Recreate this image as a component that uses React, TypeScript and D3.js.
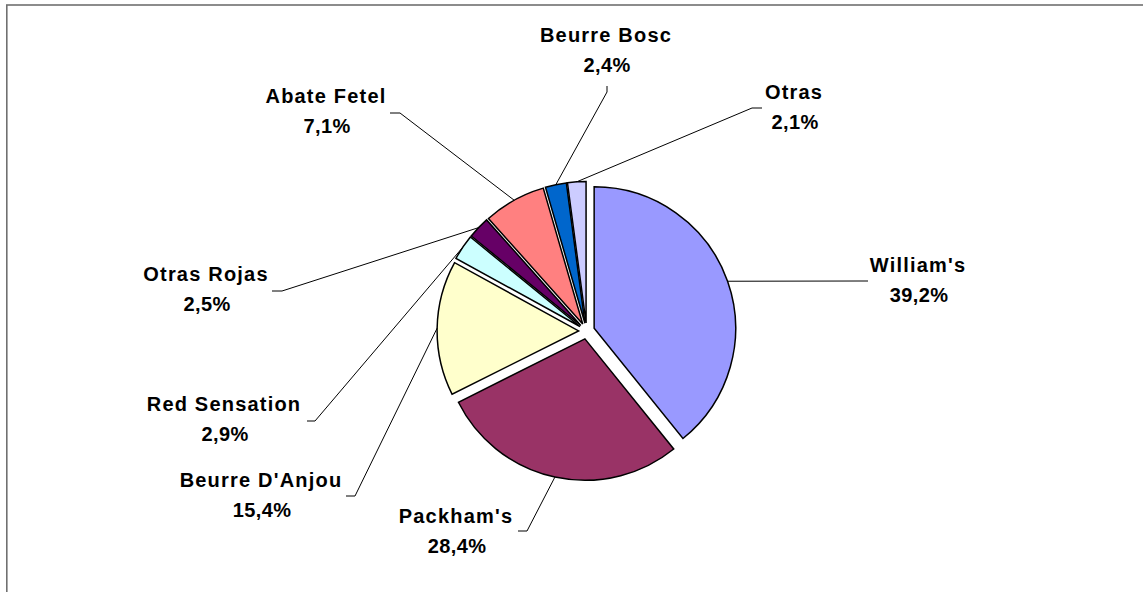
import * as d3 from 'd3';
import { type FC, useEffect, useRef } from 'react';

// Variedades de pera, % del total
const varieties = [
  "William's",
  "Packham's",
  "Beurre D'Anjou",
  'Red Sensation',
  'Otras Rojas',
  'Abate Fetel',
  'Beurre Bosc',
  'Otras',
];
const shares = [39.2, 28.4, 15.4, 2.9, 2.5, 7.1, 2.4, 2.1];

const sliceColors = [
  '#9999FF',
  '#993366',
  '#FFFFCC',
  '#CCFFFF',
  '#660066',
  '#FF8080',
  '#0066CC',
  '#CCCCFF',
];

// label layout: text centre x, first baseline y, leader elbow and end
const labelLayout = [
  { x: 918, y: 272, elbow: [860, 281], end: [868, 281] },
  { x: 456, y: 523, elbow: [527, 531], end: [518, 531] },
  { x: 261, y: 487, elbow: [355, 496], end: [346, 496] },
  { x: 224, y: 411, elbow: [315, 421], end: [307, 421] },
  { x: 206, y: 281, elbow: [282, 291], end: [272, 291] },
  { x: 326, y: 103, elbow: [400, 113], end: [390, 113] },
  { x: 606, y: 42, elbow: [607, 92], end: [607, 86] },
  { x: 794, y: 99, elbow: [752, 108], end: [762, 108] },
];

const W = 1143;
const H = 592;

const fmt = d3
  .formatLocale({
    decimal: ',',
    thousands: '.',
    grouping: [3],
    currency: ['', ''],
  })
  .format('.1f');

const PieChart: FC = () => {
  const svgRef = useRef<SVGSVGElement>(null);

  useEffect(() => {
    if (!svgRef.current) return;
    const svg = d3.select(svgRef.current);
    svg.selectAll('*').remove();

    const cx = 586.6;
    const cy = 331;
    const radius = 141.5;
    const explode = 8;
    const font = "'Liberation Sans', Arial, sans-serif";

    // chart frame (runs off the right and bottom edges)
    svg
      .append('rect')
      .attr('x', 6.8)
      .attr('y', 5)
      .attr('width', W + 20)
      .attr('height', H + 20)
      .attr('fill', 'none')
      .attr('stroke', '#707070')
      .attr('stroke-width', 1.6);

    const data = varieties.map((name, i) => ({
      name,
      value: shares[i],
      color: sliceColors[i],
      layout: labelLayout[i],
    }));

    const pie = d3
      .pie<(typeof data)[number]>()
      .sort(null)
      .value((d) => d.value);
    const arcs = pie(data);

    const arc = d3
      .arc<d3.PieArcDatum<(typeof data)[number]>>()
      .innerRadius(0)
      .outerRadius(radius);

    const mid = (a: d3.PieArcDatum<unknown>) => (a.startAngle + a.endAngle) / 2;
    const offset = (a: d3.PieArcDatum<unknown>) => {
      const m = mid(a);
      return [cx + explode * Math.sin(m), cy - explode * Math.cos(m)];
    };

    // Slices
    svg
      .append('g')
      .selectAll('path')
      .data(arcs)
      .join('path')
      .attr('transform', (a) => {
        const [ox, oy] = offset(a);
        return `translate(${ox},${oy})`;
      })
      .attr('d', arc)
      .attr('fill', (a) => a.data.color)
      .attr('stroke', '#000')
      .attr('stroke-width', 1.5)
      .attr('stroke-linejoin', 'miter');

    // Leader lines
    svg
      .append('g')
      .selectAll('path')
      .data(arcs)
      .join('path')
      .attr('d', (a) => {
        const [ox, oy] = offset(a);
        const m = mid(a);
        const px = ox + radius * Math.sin(m);
        const py = oy - radius * Math.cos(m);
        const l = a.data.layout;
        return d3.line()([
          [px, py],
          l.elbow as [number, number],
          l.end as [number, number],
        ]);
      })
      .attr('fill', 'none')
      .attr('stroke', '#000')
      .attr('stroke-width', 1);

    // Labels
    const labels = svg
      .append('g')
      .attr('font-family', font)
      .attr('font-weight', 'bold')
      .attr('font-size', 20)
      .attr('fill', '#000')
      .attr('text-anchor', 'middle');

    labels
      .selectAll('.name')
      .data(arcs)
      .join('text')
      .attr('class', 'name')
      .attr('x', (a) => a.data.layout.x)
      .attr('y', (a) => a.data.layout.y)
      .attr('letter-spacing', 1.2)
      .text((a) => a.data.name);

    labels
      .selectAll('.pct')
      .data(arcs)
      .join('text')
      .attr('class', 'pct')
      .attr('x', (a) => a.data.layout.x + 1)
      .attr('y', (a) => a.data.layout.y + 29.5)
      .attr('letter-spacing', 0.4)
      .text((a) => `${fmt(a.data.value)}%`);
  }, []);

  return (
    <svg
      ref={svgRef}
      width={W}
      height={H}
      style={{ position: 'absolute', left: 0, top: 0, background: '#fff' }}
    />
  );
};

export default function App() {
  return <PieChart />;
}
